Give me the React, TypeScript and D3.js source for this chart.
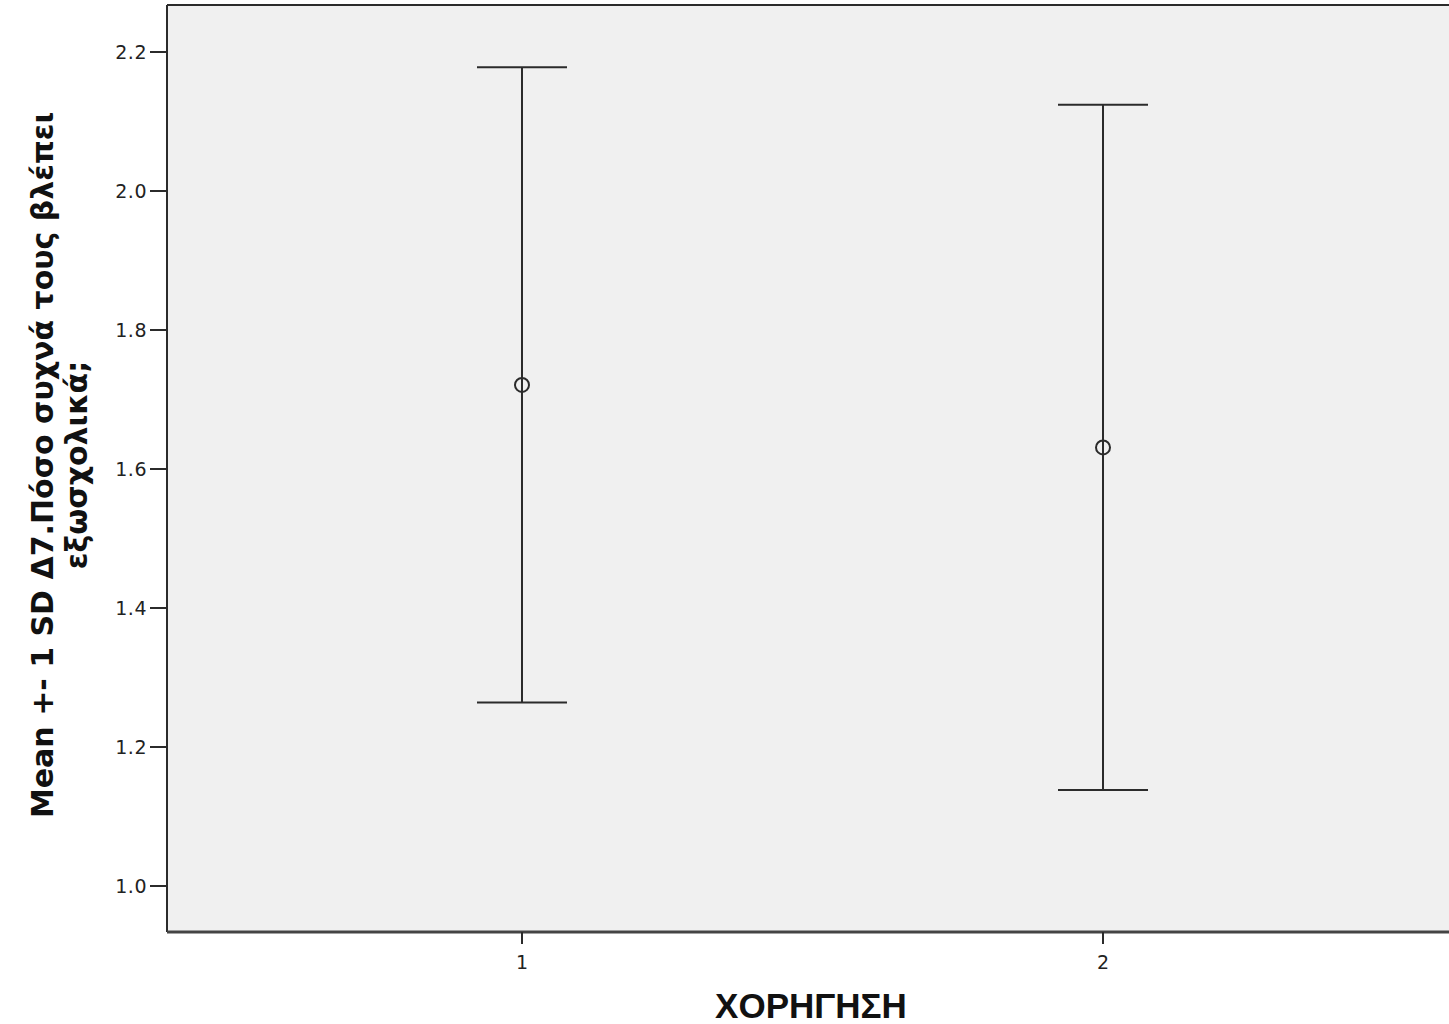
import React from "react";
import * as d3 from "d3";

const groups = ["1", "2"];
const means = [1.721, 1.631];
const sds = [0.457, 0.493];
const yTicks = [1.0, 1.2, 1.4, 1.6, 1.8, 2.0, 2.2];
const yTitle1 = "Mean +- 1 SD Δ7.Πόσο συχνά τους βλέπει";
const yTitle2 = "εξωσχολικά;";
const xTitle = "ΧΟΡΗΓΗΣΗ";

const W = 1449;
const H = 1024;
const left = 167;
const top = 5;
const bottom = 932;
const right = 1458;

export default function App() {
  const x = d3.scaleLinear().domain([0.389, 2.611]).range([left, right]);
  const y = d3.scaleLinear().domain([1.0, 2.2]).range([886, 52]);
  const ink = "#2b2b2b";
  const sans = "DejaVu Sans, Verdana, sans-serif";

  return (
    <svg width={W} height={H} style={{ position: "absolute", left: 0, top: 0, background: "#fff" }}>
      <rect x={left} y={top} width={right - left} height={bottom - top} fill="#f0f0f0" />
      {/* frame */}
      <line x1={left} y1={top} x2={right} y2={top} stroke={ink} strokeWidth={2} />
      <line x1={left} y1={top} x2={left} y2={bottom} stroke={ink} strokeWidth={2} />
      <line x1={left} y1={bottom} x2={right} y2={bottom} stroke="#444" strokeWidth={3} />

      {/* y axis ticks */}
      {yTicks.map((t) => (
        <g key={t}>
          <line x1={left - 17} x2={left} y1={y(t)} y2={y(t)} stroke={ink} strokeWidth={2} />
          <text
            x={left - 20}
            y={y(t)}
            dy="0.36em"
            textAnchor="end"
            fontFamily={sans}
            fontSize={19}
            letterSpacing={0.5}
            fill="#222"
          >
            {t.toFixed(1)}
          </text>
        </g>
      ))}

      {/* x axis ticks */}
      {groups.map((g, i) => (
        <g key={g}>
          <line x1={x(i + 1)} x2={x(i + 1)} y1={bottom} y2={bottom + 12} stroke={ink} strokeWidth={2} />
          <text
            x={x(i + 1)}
            y={bottom + 37}
            textAnchor="middle"
            fontFamily={sans}
            fontSize={19}
            fill="#222"
          >
            {g}
          </text>
        </g>
      ))}

      {/* error bars: mean ± 1 SD */}
      {groups.map((g, i) => {
        const cx = x(i + 1);
        const hi = y(means[i] + sds[i]);
        const lo = y(means[i] - sds[i]);
        const m = y(means[i]);
        return (
          <g key={"e" + g} stroke={ink} strokeWidth={2} fill="none">
            <line x1={cx} x2={cx} y1={hi} y2={lo} />
            <line x1={cx - 45} x2={cx + 45} y1={hi} y2={hi} />
            <line x1={cx - 45} x2={cx + 45} y1={lo} y2={lo} />
            <circle cx={cx} cy={m} r={7} />
          </g>
        );
      })}

      {/* axis titles */}
      <g transform={`translate(42, 465) rotate(-90)`}>
        <text
          textAnchor="middle"
          dy="0.35em"
          fontFamily={sans}
          fontWeight="bold"
          fontSize={30}
          fill="#111"
        >
          {yTitle1}
        </text>
        <text
          y={34}
          textAnchor="middle"
          dy="0.35em"
          fontFamily={sans}
          fontWeight="bold"
          fontSize={30}
          fill="#111"
        >
          {yTitle2}
        </text>
      </g>
      <text
        x={811}
        y={1018}
        textAnchor="middle"
        fontFamily="Liberation Sans, Arial, sans-serif"
        fontWeight="bold"
        fontSize={35}
        fill="#111"
      >
        {xTitle}
      </text>
    </svg>
  );
}
